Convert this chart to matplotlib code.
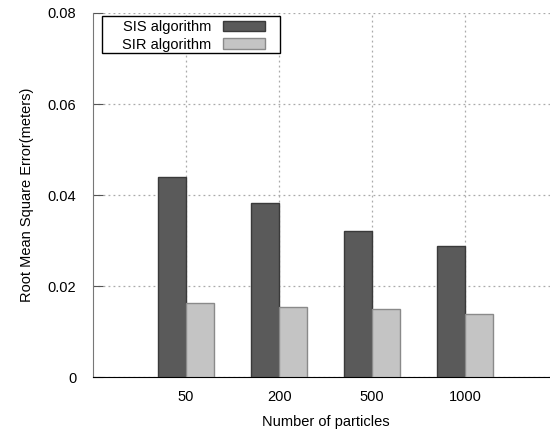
import matplotlib
matplotlib.use("Agg")
import matplotlib.pyplot as plt
from matplotlib.patches import Rectangle
import numpy as np

categories = ["50", "200", "500", "1000"]
sis = [0.0440, 0.0382, 0.0321, 0.0289]
sir = [0.0162, 0.0153, 0.0149, 0.0138]

plt.rcParams['font.family'] = ['Liberation Sans', 'DejaVu Sans']

fig = plt.figure(figsize=(5.5, 4.32), dpi=100)
ax = fig.add_axes([0.169, 0.127, 0.846, 0.843])

x = np.arange(1, len(categories) + 1)
w = 0.3
ax.bar(x - w/2, sis, w, color="#5a5a5a", edgecolor="#3a3a3a", linewidth=1, label="SIS algorithm", zorder=3)
ax.bar(x + w/2, sir, w, color="#c4c4c4", edgecolor="#8a8a8a", linewidth=1, label="SIR algorithm", zorder=3)

ax.set_xlim(0, 5)
ax.set_ylim(0, 0.08)
ax.set_xticks(x)
ax.set_xticklabels(categories, fontsize=10.5)
ax.set_yticks([0, 0.02, 0.04, 0.06, 0.08])
ax.set_yticklabels(["0", "0.02", "0.04", "0.06", "0.08"], fontsize=10.5)
ax.tick_params(axis='y', direction='in', length=7, pad=12, colors='#555555', labelcolor='black')
ax.tick_params(axis='x', direction='in', length=0, pad=9, top=True)
ax.grid(True, linestyle=(0, (1.5, 2.5)), color="#aaaaaa", linewidth=0.9, zorder=0)

for s in ["top", "right"]:
    ax.spines[s].set_visible(False)
ax.spines["left"].set_color("#777777")
ax.spines["bottom"].set_color("black")

ax.set_xlabel("Number of particles", fontsize=10.5, labelpad=8)
ax.set_ylabel("Root Mean Square Error(meters)", fontsize=10.5, labelpad=10)

# legend frame
ax.add_patch(Rectangle((0.019, 0.890), 0.383, 0.102, transform=ax.transAxes,
                       facecolor="white", edgecolor="black", linewidth=1.0, zorder=5, clip_on=False))
leg = ax.legend(loc="upper right", bbox_to_anchor=(0.392, 1.008), markerfirst=False, frameon=False,
                fontsize=10.5, handlelength=2.9, handleheight=0.7, handletextpad=0.8,
                borderpad=0.2, labelspacing=0.23)
leg.set_zorder(6)

fig.savefig("out.png", dpi=100)
